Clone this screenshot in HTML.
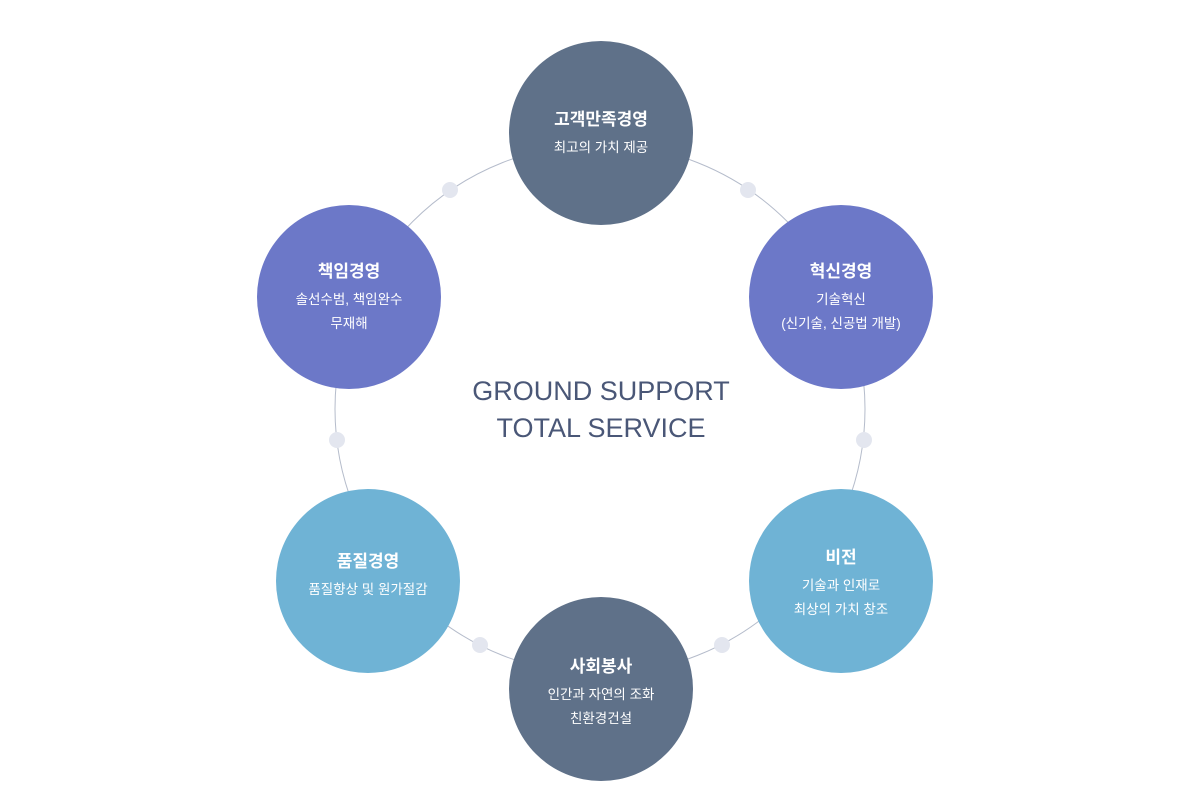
<!DOCTYPE html>
<html><head><meta charset="utf-8"><style>
html,body{margin:0;padding:0;background:#fff;}
svg{display:block;}
text{font-family:"Liberation Sans","Noto Sans CJK KR",sans-serif;fill:#fff;text-anchor:middle;}
.t{font-size:17px;font-weight:bold;}
.s{font-size:13.5px;}
.c{fill:#4a5777;font-size:27px;}
</style></head><body>
<svg width="1200" height="800" viewBox="0 0 1200 800">
<circle cx="600" cy="409" r="265" fill="none" stroke="#b5bccb" stroke-width="1"/>
<g fill="#e3e6ef">
<circle cx="450" cy="190" r="8"/><circle cx="748" cy="190" r="8"/>
<circle cx="337" cy="440" r="8"/><circle cx="864" cy="440" r="8"/>
<circle cx="480" cy="645" r="8"/><circle cx="722" cy="645" r="8"/>
</g>
<circle cx="601" cy="133" r="92" fill="#5f7189"/>
<circle cx="841" cy="297" r="92" fill="#6c78c8"/>
<circle cx="349" cy="297" r="92" fill="#6c78c8"/>
<circle cx="841" cy="581" r="92" fill="#6fb3d5"/>
<circle cx="368" cy="581" r="92" fill="#6fb3d5"/>
<circle cx="601" cy="689" r="92" fill="#5f7189"/>
<text class="t" x="601" y="125">고객만족경영</text>
<text class="s" x="601" y="152">최고의 가치 제공</text>
<text class="t" x="841" y="277">혁신경영</text>
<text class="s" x="841" y="304">기술혁신</text>
<text class="s" x="841" y="328">(신기술, 신공법 개발)</text>
<text class="t" x="349" y="277">책임경영</text>
<text class="s" x="349" y="304">솔선수범, 책임완수</text>
<text class="s" x="349" y="328">무재해</text>
<text class="t" x="841" y="563">비전</text>
<text class="s" x="841" y="590">기술과 인재로</text>
<text class="s" x="841" y="614">최상의 가치 창조</text>
<text class="t" x="368" y="567">품질경영</text>
<text class="s" x="368" y="594">품질향상 및 원가절감</text>
<text class="t" x="601" y="672">사회봉사</text>
<text class="s" x="601" y="699">인간과 자연의 조화</text>
<text class="s" x="601" y="723">친환경건설</text>
<text class="c" x="601" y="400">GROUND SUPPORT</text>
<text class="c" x="601" y="437">TOTAL SERVICE</text>
</svg>
</body></html>
